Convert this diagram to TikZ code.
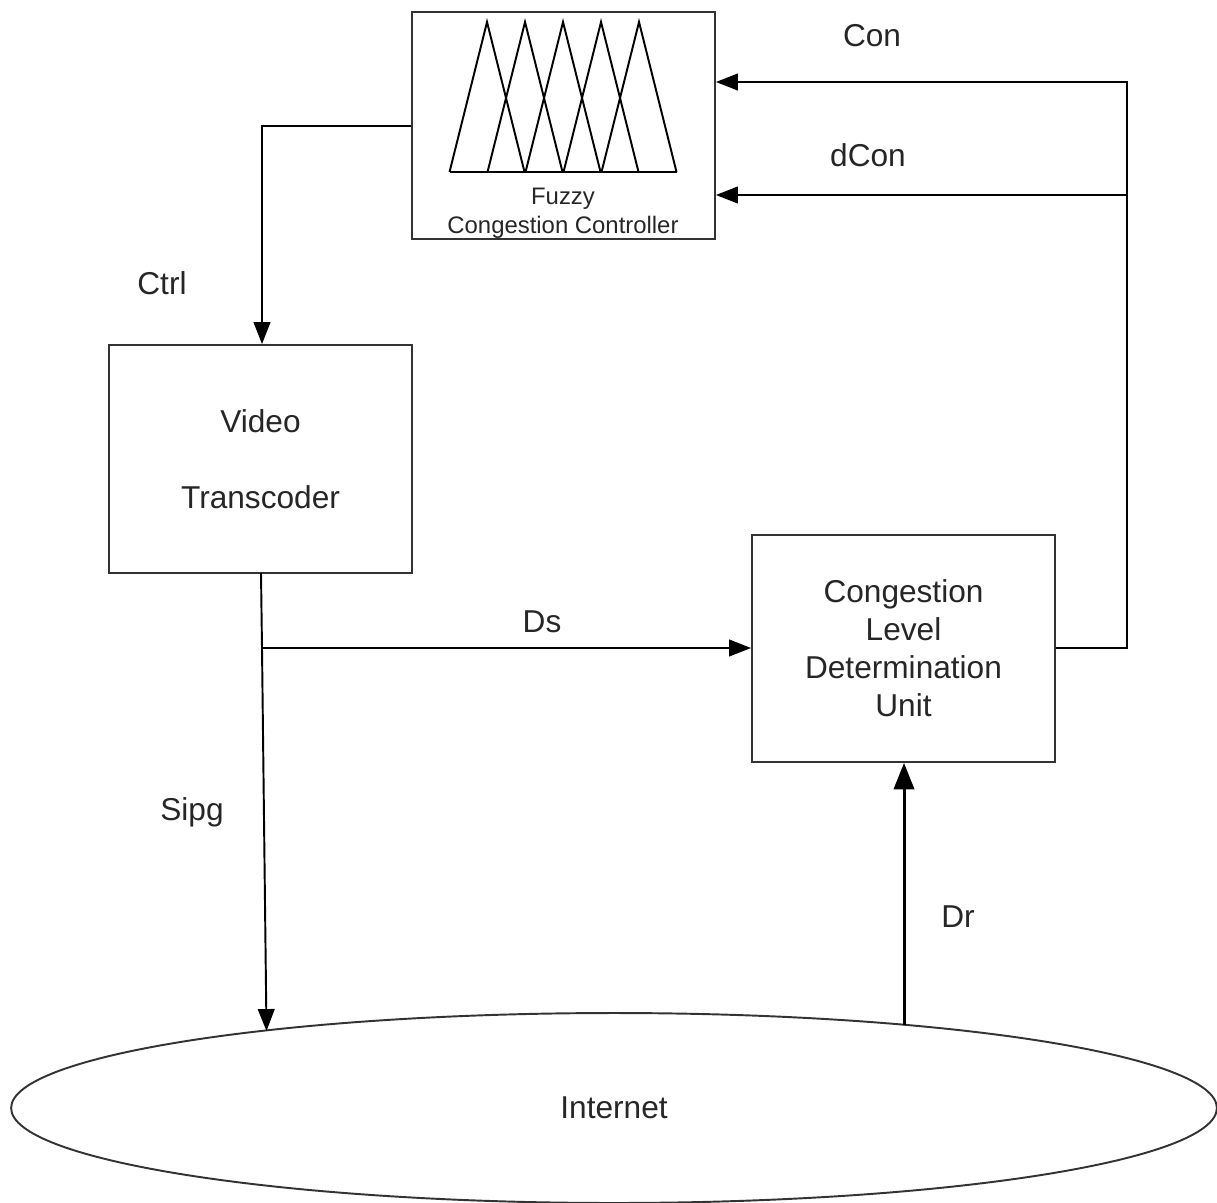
\documentclass[tikz,border=0pt]{standalone}
\usepackage{fontspec}
\setmainfont{Liberation Sans}
\usetikzlibrary{arrows.meta,shapes.geometric}
\begin{document}
\begin{tikzpicture}[x=0.02cm,y=-0.02cm,
  box/.style={draw=black!80,line width=1.1pt,minimum width=6.06cm,minimum height=4.56cm,inner sep=0pt,align=center,font=\fontsize{18}{21.6}\selectfont,text=black!85},
  conn/.style={draw=black,line width=1.1pt},
  arr/.style={conn,-{Triangle[length=12.5pt,width=9.5pt]}},
  lbl/.style={font=\fontsize{18}{21.6}\selectfont,text=black!85}]
\useasboundingbox (0,0) rectangle (1217,1203);
% nodes
\node[box,minimum height=4.54cm] (fcc) at (563.5,125.5) {};
\node[box] (vt) at (260.5,459) {Video\\[22pt]Transcoder};
\node[box,minimum height=4.54cm] (cldu) at (903.5,648.5) {Congestion\\Level\\Determination\\Unit};
\node[draw=black!80,line width=1.1pt,ellipse,minimum width=24.12cm,minimum height=3.8cm,inner sep=0pt,font=\fontsize{18}{21.6}\selectfont,text=black!85] (net) at (614,1108) {Internet};
% fuzzy triangles
\foreach \a in {487,525,563,601,639}{
  \draw[line width=1.1pt] (\a-37.5,172) -- (\a,22) -- (\a+37.5,172);
}
\draw[line width=1.1pt] (450,172) -- (677,172);
\node[font=\fontsize{13.6}{16.3}\selectfont,align=center,text=black!85] (ftxt) at (563,213) {Fuzzy\\Congestion Controller};
% connectors
\coordinate (c1) at (262,126);
\draw[arr] (fcc.west |- c1) -| (vt.north -| c1);
\coordinate (s0) at (261,573);
\coordinate (s1) at (262,648);
\coordinate (s2) at (266.5,1031);
\draw[conn] (s0) -- (s1);
\draw[arr] (s1) -- (s2);
\draw[arr] (s1) -- (cldu.west |- s1);
\coordinate (r1) at (1127,648);
\coordinate (r2) at (1127,82);
\coordinate (r3) at (1127,195);
\draw[arr] (cldu.east |- r1) -- (r1) -- (r2) -- (fcc.east |- r2);
\draw[arr] (r3) -- (fcc.east |- r3);
\coordinate (d0) at (904,1025);
\draw[conn,line width=1.7pt,-{Triangle[length=15pt,width=11.5pt]}] (d0) -- (cldu.south -| d0);
% labels
\node[lbl] (lcon) at (872,36) {Con};
\node[lbl] (ldcon) at (868,155) {dCon};
\node[lbl] (lctrl) at (162,283) {Ctrl};
\node[lbl] (lds) at (542,622) {Ds};
\node[lbl] (lsipg) at (192,812) {Sipg};
\node[lbl] (ldr) at (958,917) {Dr};
\end{tikzpicture}
\end{document}
